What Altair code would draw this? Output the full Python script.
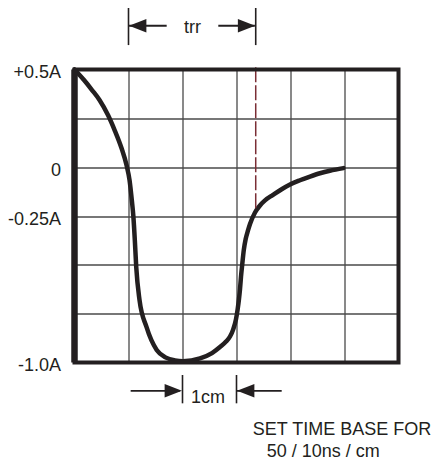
import altair as alt
import pandas as pd

# ---- data ----
curve_x = [0.0, 0.176, 0.324, 0.463, 0.620, 0.750, 0.870, 0.963, 1.019, 1.061, 1.091, 1.117,
           1.143, 1.204, 1.333, 1.522, 1.694, 1.861, 2.009,
           2.324, 2.546, 2.694, 2.806, 2.880, 2.941, 2.991, 3.022, 3.046, 3.065, 3.083, 3.107,
           3.135, 3.170, 3.213, 3.250, 3.343, 3.435, 3.528, 3.676, 3.837, 3.991, 4.176, 4.361,
           4.546, 4.731, 4.981]
curve_y = [0.5, 0.446, 0.395, 0.344, 0.267, 0.185, 0.098, 0.011, -0.066, -0.168, -0.255, -0.373,
           -0.511, -0.680, -0.818, -0.936, -0.975, -0.989, -0.993,
           -0.979, -0.952, -0.921, -0.893, -0.867, -0.829, -0.778, -0.726, -0.675, -0.624, -0.562, -0.496,
           -0.424, -0.368, -0.324, -0.291, -0.232, -0.196, -0.170, -0.142, -0.113, -0.089, -0.067, -0.048,
           -0.031, -0.018, -0.005]

grid_x = [0, 1, 2, 3, 4, 5, 6]
grid_y = [0.5, 0.25, 0.0, -0.25, -0.5, -0.75, -1.0]
y_label_vals = [0.5, 0.0, -0.25, -1.0]
y_label_text = ["+0.5A", "0", "-0.25A", "-1.0A"]

trr_start = 1.0
trr_end = 3.356
trr_level = -0.21
one_cm = [2.0, 3.0]

FONT = "Liberation Sans"
INK = "#231f20"

xs = alt.Scale(domain=[0, 6], nice=False, zero=False)
ys = alt.Scale(domain=[-1.0, 0.5], nice=False, zero=False)

label_expr = " : ".join(
    f"datum.value == {v} ? '{t}'" for v, t in zip(y_label_vals, y_label_text)
) + " : ''"

curve_df = pd.DataFrame({"x": curve_x, "y": curve_y})

base_line = alt.Chart(curve_df).mark_line(
    color=INK, strokeWidth=4.5, interpolate="monotone", strokeCap="round", strokeJoin="round"
).encode(
    x=alt.X("x:Q", scale=xs, axis=alt.Axis(values=grid_x, grid=True, labels=False, ticks=False,
                                            domain=False, title=None, gridColor="#4a4a4a", gridWidth=1.3)),
    y=alt.Y("y:Q", scale=ys, axis=alt.Axis(values=grid_y, grid=True, ticks=False, domain=False, title=None,
                                            gridColor="#4a4a4a", gridWidth=1.3, labelExpr=label_expr,
                                            labelFont=FONT, labelFontSize=18, labelColor=INK,
                                            labelPadding=14, labelBaseline="alphabetic", labelOffset=8,
                                            labelFlush=False, labelOverlap=False)),
)

# border
border_df = pd.DataFrame({"x": [grid_x[0]], "x2": [grid_x[-1]], "y": [grid_y[-1]], "y2": [grid_y[0]]})
border = alt.Chart(border_df).mark_rect(fill=None, stroke=INK, strokeWidth=4).encode(
    x=alt.X("x:Q", scale=xs), x2="x2", y=alt.Y("y:Q", scale=ys), y2="y2")
left_border = alt.Chart(border_df).mark_rule(color=INK, strokeWidth=6.5).encode(
    x=alt.X("x:Q", scale=xs), y=alt.Y("y:Q", scale=ys), y2="y2")

# dashed trr marker line
dash_df = pd.DataFrame({"x": [trr_end], "y": [trr_level], "y2": [0.52]})
dash = alt.Chart(dash_df).mark_rule(color="#7a2e35", strokeWidth=1.5, strokeDash=[15, 3]).encode(
    x=alt.X("x:Q", scale=xs), y=alt.Y("y:Q", scale=ys), y2="y2")

# vertical ticks (trr limits and 1cm limits)
ticks_df = pd.DataFrame({
    "x": [trr_start, trr_end, one_cm[0], one_cm[1]],
    "y": [0.625, 0.625, -1.209, -1.209],
    "y2": [0.82, 0.82, -1.064, -1.064],
})
ticks = alt.Chart(ticks_df).mark_rule(color=INK, strokeWidth=1.6).encode(
    x=alt.X("x:Q", scale=xs), y=alt.Y("y:Q", scale=ys), y2="y2")

# arrow shafts
shaft_df = pd.DataFrame({
    "x": [1.01, 2.663, 1.04, 3.0],
    "x2": [1.707, 3.34, 1.95, 3.837],
    "y": [0.724, 0.724, -1.145, -1.145],
})
shafts = alt.Chart(shaft_df).mark_rule(color=INK, strokeWidth=1.8).encode(
    x=alt.X("x:Q", scale=xs), x2="x2", y=alt.Y("y:Q", scale=ys))

# arrow heads
left_heads = pd.DataFrame({"x": [trr_start + 0.01, one_cm[1] + 0.01], "y": [0.724, -1.145]})
right_heads = pd.DataFrame({"x": [trr_end - 0.01, one_cm[0] - 0.01], "y": [0.724, -1.145]})
lh = alt.Chart(left_heads).mark_point(shape="M0,0L2,-0.78L2,0.78Z", filled=True, fill=INK,
                                      stroke=None, opacity=1, size=300).encode(
    x=alt.X("x:Q", scale=xs), y=alt.Y("y:Q", scale=ys))
rh = alt.Chart(right_heads).mark_point(shape="M0,0L-2,-0.78L-2,0.78Z", filled=True, fill=INK,
                                       stroke=None, opacity=1, size=300).encode(
    x=alt.X("x:Q", scale=xs), y=alt.Y("y:Q", scale=ys))

# texts
text_df = pd.DataFrame({
    "x": [2.185, 2.472, 4.954, 4.607],
    "y": [0.685, -1.209, -1.371, -1.484],
    "t": ["trr", "1cm", "SET TIME BASE FOR", "50 / 10ns / cm"],
})
texts = alt.Chart(text_df).mark_text(font=FONT, fontSize=18, color=INK, align="center",
                                     baseline="alphabetic").encode(
    x=alt.X("x:Q", scale=xs), y=alt.Y("y:Q", scale=ys), text="t:N")

chart = alt.layer(base_line, dash, border, left_border, ticks, shafts, lh, rh, texts).properties(
    width=324, height=293,
    autosize=alt.AutoSizeParams(type="none"),
    padding={"left": 66.5, "top": 61.5, "right": 34, "bottom": 97.5},
    background="white",
).configure_view(stroke=None)

chart.save("out.html", embed_options={"renderer": "svg", "actions": False})
